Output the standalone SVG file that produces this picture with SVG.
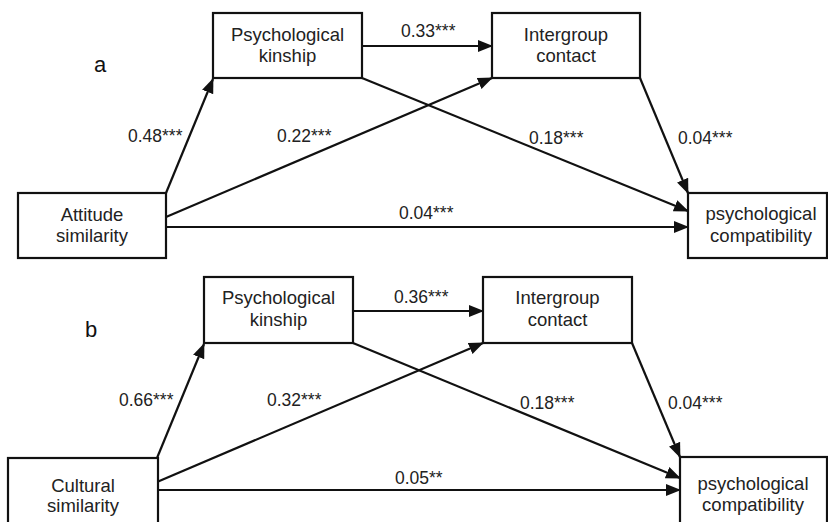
<svg xmlns="http://www.w3.org/2000/svg" width="828" height="522" viewBox="0 0 828 522">
<style>
.box{fill:#fff;stroke:#111;stroke-width:2.2}
.nt{font-family:"Liberation Sans",Arial,sans-serif;font-size:18.5px;fill:#222;text-anchor:middle}
.lb{font-family:"Liberation Sans",Arial,sans-serif;font-size:17.5px;fill:#222}
.pl{font-family:"Liberation Sans",Arial,sans-serif;font-size:22px;fill:#111}
.ar{stroke:#111;stroke-width:2.2;fill:none;marker-end:url(#ah)}
</style>
<defs>
<marker id="ah" markerUnits="userSpaceOnUse" markerWidth="15" markerHeight="13" refX="14" refY="6" orient="auto" viewBox="0 0 15 12">
<path d="M0,0 L15,6 L0,12 z" fill="#111"/>
</marker>
</defs>
<rect width="828" height="522" fill="#fff"/>
<text class="pl" x="94" y="72">a</text>
<text class="pl" x="85" y="337">b</text>
<g id="connectors">
<line class="ar" x1="166" y1="193" x2="213" y2="79"/>
<line class="ar" x1="362" y1="46" x2="492" y2="46"/>
<line class="ar" x1="166" y1="217" x2="492" y2="78"/>
<line class="ar" x1="362" y1="78" x2="688" y2="211"/>
<line class="ar" x1="640" y1="78" x2="688" y2="193"/>
<line class="ar" x1="166" y1="227" x2="688" y2="227"/>
<line class="ar" x1="157" y1="458" x2="204" y2="344"/>
<line class="ar" x1="353" y1="311" x2="483" y2="311"/>
<line class="ar" x1="157" y1="482" x2="483" y2="343"/>
<line class="ar" x1="353" y1="343" x2="680" y2="478"/>
<line class="ar" x1="632" y1="343" x2="680" y2="457"/>
<line class="ar" x1="157" y1="490" x2="680" y2="490"/>
</g>
<g id="labels">
<text class="lb" x="128" y="142">0.48***</text>
<text class="lb" x="277" y="142">0.22***</text>
<text class="lb" x="401" y="37">0.33***</text>
<text class="lb" x="529" y="144">0.18***</text>
<text class="lb" x="678" y="144">0.04***</text>
<text class="lb" x="399" y="219">0.04***</text>
<text class="lb" x="119" y="406">0.66***</text>
<text class="lb" x="267" y="406">0.32***</text>
<text class="lb" x="394" y="303">0.36***</text>
<text class="lb" x="520" y="409">0.18***</text>
<text class="lb" x="668" y="409">0.04***</text>
<text class="lb" x="395" y="484">0.05**</text>
</g>
<g id="a-kinship"><rect class="box" x="213" y="13" width="149" height="65"/><text class="nt" x="287.5" y="41">Psychological</text><text class="nt" x="287.5" y="62">kinship</text></g>
<g id="a-contact"><rect class="box" x="492" y="13" width="148" height="65"/><text class="nt" x="566" y="41">Intergroup</text><text class="nt" x="566" y="62">contact</text></g>
<g id="a-attitude"><rect class="box" x="18" y="193" width="148" height="65"/><text class="nt" x="92" y="221">Attitude</text><text class="nt" x="92" y="242">similarity</text></g>
<g id="a-compat"><rect class="box" x="688" y="193" width="139" height="65"/><text class="nt" x="761" y="220">psychological</text><text class="nt" x="761" y="242">compatibility</text></g>
<g id="b-kinship"><rect class="box" x="204" y="277" width="149" height="66"/><text class="nt" x="278.5" y="304">Psychological</text><text class="nt" x="278.5" y="326">kinship</text></g>
<g id="b-contact"><rect class="box" x="483" y="277" width="149" height="66"/><text class="nt" x="557.5" y="304">Intergroup</text><text class="nt" x="557.5" y="326">contact</text></g>
<g id="b-cultural"><rect class="box" x="8" y="458" width="150" height="70"/><text class="nt" x="83" y="492">Cultural</text><text class="nt" x="83" y="512">similarity</text></g>
<g id="b-compat"><rect class="box" x="680" y="457" width="147" height="70"/><text class="nt" x="753" y="490">psychological</text><text class="nt" x="753" y="511">compatibility</text></g>
</svg>
